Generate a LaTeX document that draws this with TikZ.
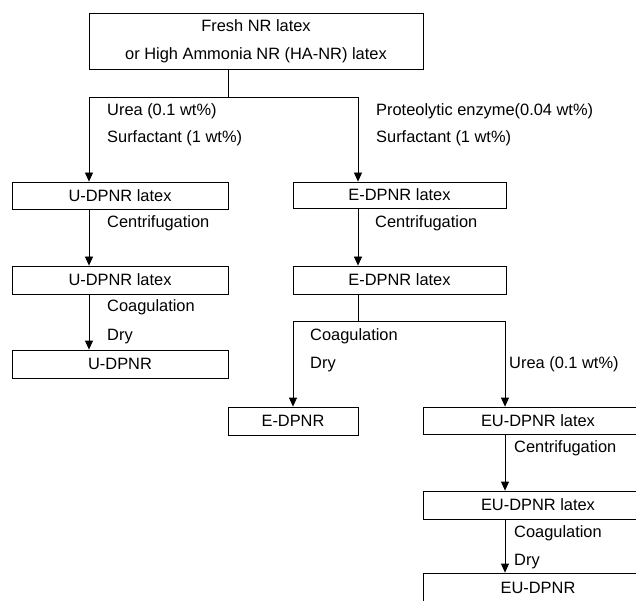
\documentclass[tikz,border=0pt]{standalone}
\usepackage{fontspec}
\setmainfont{Liberation Sans}
\usepackage{tikz}
\usetikzlibrary{positioning,calc,arrows.meta}

\begin{document}
\begin{tikzpicture}[x=1pt, y=-1pt,
    box/.style={draw, line width=0.8pt, inner sep=0pt, minimum width=#1, minimum height=27pt,
        font=\fontsize{16.4pt}{20pt}\selectfont},
    lab/.style={anchor=west, inner sep=0pt, text height=11.8pt, text depth=0pt,
        font=\fontsize{16.4pt}{20pt}\selectfont},
    line/.style={line width=0.8pt},
    arr/.style={line width=0.8pt, -{Triangle[width=8pt,length=9pt]}}]
    \clip (0,0) rectangle (636,601);

    % Start
    \node[box=334pt, minimum height=56pt, align=center, font=\fontsize{16.4pt}{28pt}\selectfont]
        (fresh) at (256,41) {Fresh NR latex\\or High Ammonia NR (HA-NR) latex};
    \coordinate (top) at (228,97);
    \coordinate (ua) at (89,97);
    \coordinate (ea) at (358,97);
    \draw[line] (fresh.south -| top) -- (top);
    \draw[line] (ua) -- (ea);

    % Urea route
    \node[box=216pt] (ul1) at (120,195.5) {U-DPNR latex};
    \node[box=216pt, minimum height=28pt] (ul2) at (120,280) {U-DPNR latex};
    \node[box=216pt, minimum height=28pt] (udpnr) at (120,364) {U-DPNR};
    \node[lab] (urea1) at (107,110) {Urea (0.1 wt\%)};
    \node[lab] (surf1) at (107,137) {Surfactant (1 wt\%)};
    \node[lab] (centu) at (107,222) {Centrifugation};
    \node[lab] (coagu) at (107,306) {Coagulation};
    \node[lab] (dryu) at (107,335) {Dry};
    \draw[arr] (ua) -- (ul1.north -| ua);
    \draw[arr] (ul1.south -| ua) -- (ul2.north -| ua);
    \draw[arr] (ul2.south -| ua) -- (udpnr.north -| ua);

    % Enzyme route
    \node[box=213pt, minimum height=26pt] (el1) at (399.5,195) {E-DPNR latex};
    \node[box=213pt, minimum height=28pt] (el2) at (399.5,280) {E-DPNR latex};
    \node[lab] (prot) at (376,110) {Proteolytic enzyme(0.04 wt\%)};
    \node[lab] (surf2) at (376,137) {Surfactant (1 wt\%)};
    \node[lab] (cente) at (375,222) {Centrifugation};
    \draw[arr] (ea) -- (el1.north -| ea);
    \draw[arr] (el1.south -| ea) -- (el2.north -| ea);

    \coordinate (esplit) at (358,321);
    \coordinate (eleft) at (293,321);
    \coordinate (eright) at (505,321);
    \draw[line] (el2.south -| esplit) -- (esplit);
    \draw[line] (eleft) -- (eright);

    \node[box=130pt, minimum height=28pt] (edpnr) at (293,421) {E-DPNR};
    \node[lab] (coage) at (310,335) {Coagulation};
    \node[lab] (drye) at (310,363) {Dry};
    \draw[arr] (eleft) -- (edpnr.north);

    % Enzyme + urea route
    \node[box=230pt] (eul1) at (538,420.5) {EU-DPNR latex};
    \node[box=230pt, minimum height=28pt] (eul2) at (538,505) {EU-DPNR latex};
    \node[box=230pt, minimum height=30pt] (eudpnr) at (538,588) {EU-DPNR};
    \node[lab] (ureaeu) at (509,363) {Urea (0.1 wt\%)};
    \node[lab] (centeu) at (514,447) {Centrifugation};
    \node[lab] (coageu) at (514,532) {Coagulation};
    \node[lab] (dryeu) at (514,560) {Dry};
    \draw[arr] (eright) -- (eul1.north -| eright);
    \draw[arr] (eul1.south -| eright) -- (eul2.north -| eright);
    \draw[arr] (eul2.south -| eright) -- (eudpnr.north -| eright);
\end{tikzpicture}
\end{document}
